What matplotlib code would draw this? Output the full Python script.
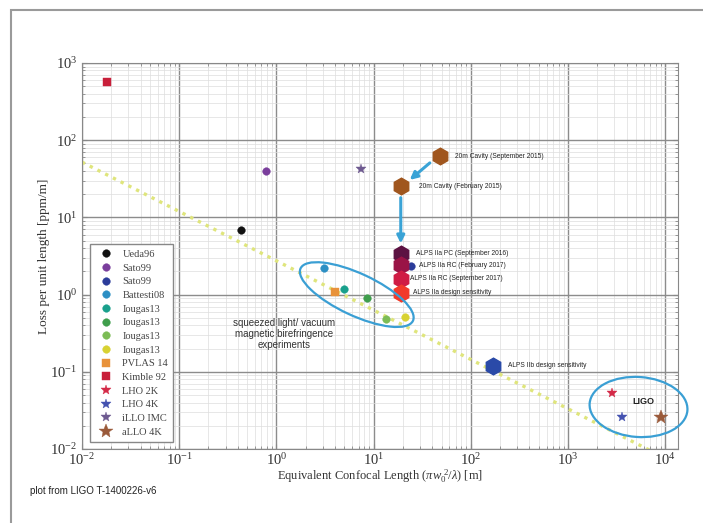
import matplotlib
import matplotlib.pyplot as plt
from matplotlib.patches import Ellipse, Rectangle
from matplotlib.transforms import IdentityTransform
import numpy as np

plt.rcParams['font.family'] = ['Liberation Serif', 'DejaVu Serif']
plt.rcParams['mathtext.fontset'] = 'custom'
plt.rcParams['mathtext.rm'] = 'Liberation Serif'
plt.rcParams['mathtext.it'] = 'Liberation Serif:italic'

# Data

# measured cavities (legend entries)
point_labels = ['Ueda96', 'Sato99', 'Sato99', 'Battesti08', 'Iougas13', 'Iougas13',
                'Iougas13', 'Iougas13', 'PVLAS 14', 'Kimble 92', 'LHO 2K', 'LHO 4K',
                'iLLO IMC', 'aLLO 4K']
point_x = [0.43, 0.78, 24.5, 3.07, 5.0, 8.5, 13.3, 21.0, 4.0, 0.018, 2860, 3560, 7.4, 9100]
point_y = [6.9, 40, 2.35, 2.23, 1.19, 0.91, 0.49, 0.52, 1.09, 560, 0.053, 0.026, 42, 0.026]
point_colors = ['#111111', '#7a3e9c', '#2b3c9a', '#2c8fc4', '#19a08c', '#3f9e4c',
                '#7cbc55', '#d8d232', '#e8923a', '#c81f3a', '#d42a48', '#4452b0',
                '#6e5a90', '#9a5a3a']
point_markers = ['o', 'o', 'o', 'o', 'o', 'o', 'o', 'o', 's', 's', '*', '*', '*', '*']
point_sizes = [5.5, 5.5, 5.5, 5.5, 5.5, 5.5, 5.5, 5.5, 5.5, 5.5, 7, 7, 7, 10]

# ALPS / 20m cavity hexagons
cavity_labels = ['20m Cavity (September 2015)', '20m Cavity (February 2015)']
cavity_x = [48, 19]
cavity_y = [62, 25.5]

alps_labels = ['ALPS IIa PC (September 2016)', 'ALPS IIa RC (February 2017)',
               'ALPS IIa RC (September 2017)', 'ALPS IIa design sensitivity']
alps_x = [19, 19, 19, 19]
alps_y = [3.4, 2.4, 1.6, 1.05]
alps_colors = ['#5c1242', '#9a1446', '#d01c44', '#f23a2a']

alpsb_label = 'ALPS IIb design sensitivity'
alpsb_x = [168]
alpsb_y = [0.12]

# dotted trend line end points
fit_x = [0.01, 1e4]
fit_y = [52, 0.0076]


# Figure

fig = plt.figure(figsize=(7.03, 5.23), dpi=100)
ax = fig.add_axes([82 / 703, 1 - 449 / 523, 596 / 703, 386 / 523])
ax.set_xscale('log')
ax.set_yscale('log')
ax.set_xlim(1e-2, 1.35e4)
ax.set_ylim(1e-2, 1e3)

# outer frame of the page
fig.patches.append(Rectangle((11 / 703, -0.1), 1.2, 1.1 - 10 / 523, fill=False,
                             edgecolor='#9a9a9a', lw=1.5, transform=fig.transFigure))

ax.grid(which='major', color='#8c8c8c', lw=1.0)
ax.grid(which='minor', color='#dddddd', lw=0.5)
ax.set_axisbelow(True)
for s in ax.spines.values():
    s.set_color('#888888')
ax.tick_params(which='both', direction='in', top=True, right=True, colors='#888888',
               labelcolor='#333333', labelsize=10.5)
ax.tick_params(axis='x', which='major', pad=2)

ax.plot(fit_x, fit_y, linestyle=(0, (1.0, 1.6)), color='#dfe57c', lw=2.4, zorder=2)

for lab, x, y, c, m, s in zip(point_labels, point_x, point_y, point_colors,
                              point_markers, point_sizes):
    ax.plot([x], [y], marker=m, color=c, ms=s, linestyle='none', label=lab, zorder=4,
            markeredgewidth=0.3)

ax.plot(cavity_x, cavity_y, marker='h', color='#a0561e', ms=12, linestyle='none', zorder=4)
for i in range(len(alps_y)):
    ax.plot([alps_x[i]], [alps_y[i]], marker='h', color=alps_colors[i], ms=12,
            linestyle='none', zorder=4)
ax.plot(alpsb_x, alpsb_y, marker='h', color='#2a4aa8', ms=12, linestyle='none', zorder=4)

ann = dict(textcoords='offset points', fontsize=4.8, family=['Liberation Sans'],
           va='center', ha='left', color='#222222')
offsets = [11, 13]
for lab, x, y, o in zip(cavity_labels, cavity_x, cavity_y, offsets):
    ax.annotate(lab, xy=(x, y), xytext=(o, 0), **ann)
offsets = [11, 13, 7, 9]
for lab, x, y, o in zip(alps_labels, alps_x, alps_y, offsets):
    ax.annotate(lab, xy=(x, y), xytext=(o, 0), **ann)
ax.annotate(alpsb_label, xy=(alpsb_x[0], alpsb_y[0]), xytext=(11, 0), **ann)

# arrows
arrow = dict(arrowstyle='-|>', color='#3aa3d6', lw=2.2, mutation_scale=11,
             shrinkA=0, shrinkB=0)
ax.annotate('', xy=(23.5, 30.6), xytext=(37.8, 50.8), arrowprops=arrow)
ax.annotate('', xy=(19, 4.6), xytext=(19, 18), arrowprops=arrow)


def ellipse_px(cx, cy, w, h, angle):
    X, Y = ax.transData.transform((cx, cy))
    e = Ellipse((X, Y), w, h, angle=angle, fill=False, edgecolor='#3a9fd4', lw=1.6,
                transform=IdentityTransform(), clip_on=False, zorder=5)
    ax.add_artist(e)


ellipse_px(6.7, 1.0, 124, 42, -25)
ellipse_px(5300, 0.035, 98, 60, -4)

ax.text(4600, 0.041, 'LIGO', fontsize=6.5, family=['Liberation Sans'], fontweight='bold',
        color='#222222', va='center')
ax.text(1.2, 0.31, 'squeezed light/ vacuum\nmagnetic birefringence\nexperiments',
        fontsize=7, family=['Liberation Sans'], ha='center', va='center',
        color='#333333', linespacing=1.1)

ax.set_xlabel(r'Equivalent Confocal Length ($\pi w_0^{\ 2}/\lambda$) [m]', fontsize=9,
              color='#333333', labelpad=0)
ax.set_ylabel('Loss per unit length [ppm/m]', fontsize=9.5, color='#333333', labelpad=0)

leg = ax.legend(loc='lower left', fontsize=7.5, numpoints=1, labelspacing=0.42,
                handletextpad=0.6, borderpad=0.5, fancybox=False, framealpha=1,
                edgecolor='#888888', bbox_to_anchor=(0.005, 0.005))
for t in leg.get_texts():
    t.set_color('#444444')

fig.text(30 / 703, 1 - 491 / 523, 'plot from LIGO T-1400226-v6', fontsize=7,
         family=['Liberation Sans'], color='#222222', va='center')

fig.savefig('out.png', dpi=100)
